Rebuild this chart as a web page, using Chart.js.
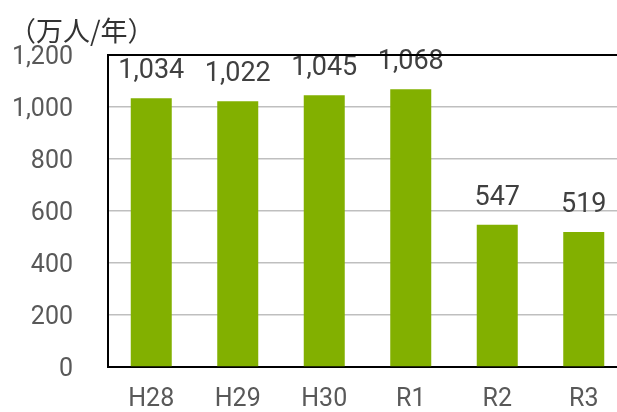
<!DOCTYPE html>
<html>
<head>
<meta charset="utf-8">
<script src="https://cdn.jsdelivr.net/npm/chart.js@4"></script>
<style>
  html, body { margin: 0; padding: 0; background: #fff; overflow: hidden; }
  #wrap { width: 617px; height: 412px; overflow: hidden; }
  /* plot runs a bit past the right edge, like the original */
  #inner { position: relative; width: 627px; height: 412px; }
</style>
</head>
<body>
<div id="wrap"><div id="inner"><canvas id="chart"></canvas></div></div>
<script>
// data
const years = ["H28", "H29", "H30", "R1", "R2", "R3"];
const visitors = [1034, 1022, 1045, 1068, 547, 519];
const unitLabel = "（万人/年）";

// value labels above each bar
const barLabels = {
  id: "barLabels",
  afterDatasetsDraw(chart) {
    const ctx = chart.ctx;
    const meta = chart.getDatasetMeta(0);
    ctx.save();
    ctx.font = "27px Roboto";
    ctx.fillStyle = "#404040";
    ctx.textAlign = "center";
    ctx.textBaseline = "alphabetic";
    meta.data.forEach((bar, i) => {
      ctx.fillText(visitors[i].toLocaleString("en-US"), bar.x, bar.y - 20);
    });
    ctx.restore();
  }
};

// unit title + top frame line
const frame = {
  id: "frame",
  afterDraw(chart) {
    const ctx = chart.ctx;
    const area = chart.chartArea;
    ctx.save();
    ctx.font = "27px 'Noto Sans CJK JP'";
    ctx.fillStyle = "#333";
    ctx.textBaseline = "middle";
    ctx.fillText(unitLabel, 9, 31);
    ctx.strokeStyle = "#000";
    ctx.lineWidth = 2;
    ctx.beginPath();
    ctx.moveTo(area.left - 1, area.top);
    ctx.lineTo(area.right, area.top);
    ctx.stroke();
    ctx.restore();
  }
};

new Chart(document.getElementById("chart"), {
  type: "bar",
  data: {
    labels: years,
    datasets: [{
      data: visitors,
      backgroundColor: "#82b000",
      barPercentage: 0.474,
      categoryPercentage: 1
    }]
  },
  options: {
    responsive: true,
    maintainAspectRatio: false,
    animation: false,
    layout: { padding: { top: 55, right: 0, left: 0, bottom: 0 } },
    plugins: { legend: { display: false }, tooltip: { enabled: false } },
    scales: {
      x: {
        grid: { display: false, drawTicks: false },
        border: { color: "#000", width: 2 },
        ticks: { color: "#595959", font: { family: "Roboto", size: 25 }, padding: 18 },
        afterFit(scale) { scale.height = 45; }
      },
      y: {
        min: 0,
        max: 1200,
        ticks: {
          stepSize: 200,
          color: "#595959",
          font: { family: "Roboto", size: 25 },
          padding: 35,
          labelOffset: 3,
          callback: v => v.toLocaleString("en-US")
        },
        grid: { color: "#bfbfbf", lineWidth: 1.5, drawTicks: false },
        border: { color: "#000", width: 2 },
        afterFit(scale) {
          scale.width = 108;
          scale.paddingTop = 0;
          scale.paddingBottom = 0;
        }
      }
    }
  },
  plugins: [barLabels, frame]
});
</script>
</body>
</html>
